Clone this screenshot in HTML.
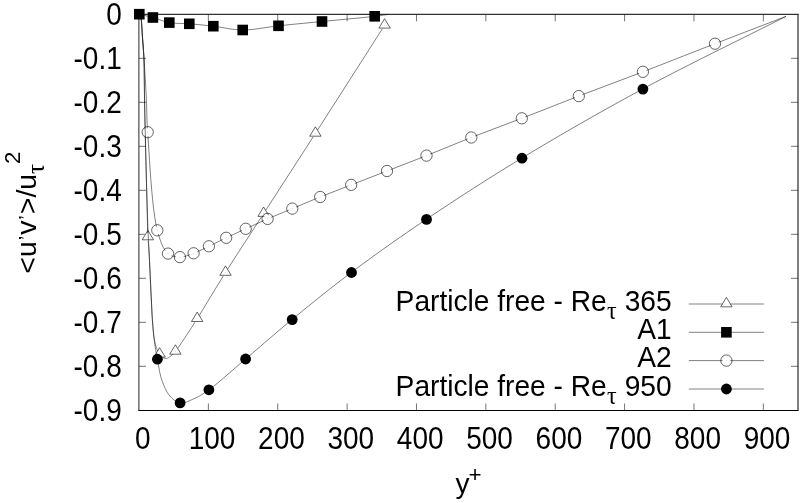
<!DOCTYPE html>
<html lang="en"><head><meta charset="utf-8"><title>Reynolds shear stress</title>
<style>html,body{margin:0;padding:0;background:#fff;overflow:hidden}body{width:806px;height:503px;position:relative}</style>
</head><body>
<svg width="806" height="503" viewBox="0 0 806 503" style="position:absolute;left:0;top:0">
<rect width="806" height="503" fill="#fff"/>
<path d="M208.37,410.5v-7 M208.37,14.3v7 M277.74,410.5v-7 M277.74,14.3v7 M347.11,410.5v-7 M347.11,14.3v7 M416.48,410.5v-7 M416.48,14.3v7 M485.85,410.5v-7 M485.85,14.3v7 M555.22,410.5v-7 M555.22,14.3v7 M624.59,410.5v-7 M624.59,14.3v7 M693.96,410.5v-7 M693.96,14.3v7 M763.33,410.5v-7 M763.33,14.3v7 M139.0,58.30h7 M798.0,58.30h-7 M139.0,102.30h7 M798.0,102.30h-7 M139.0,146.30h7 M798.0,146.30h-7 M139.0,190.30h7 M798.0,190.30h-7 M139.0,234.30h7 M798.0,234.30h-7 M139.0,278.30h7 M798.0,278.30h-7 M139.0,322.30h7 M798.0,322.30h-7 M139.0,366.30h7 M798.0,366.30h-7" stroke="#000" stroke-width="0.55" fill="none"/>
<polyline points="139.30,14.20 139.38,14.29 139.47,14.37 139.56,14.45 139.65,14.53 139.73,14.61 139.82,14.69 139.91,14.77 139.99,14.86 140.07,14.95 140.15,15.06 140.23,15.17 140.30,15.30 140.41,15.54 140.51,15.82 140.60,16.11 140.69,16.44 140.77,16.78 140.84,17.14 140.90,17.51 140.97,17.90 141.03,18.29 141.08,18.69 141.14,19.10 141.20,19.50 141.27,20.05 141.34,20.61 141.40,21.20 141.45,21.81 141.50,22.43 141.55,23.07 141.59,23.71 141.63,24.37 141.67,25.02 141.71,25.68 141.76,26.34 141.80,27.00 141.85,27.72 141.90,28.44 141.94,29.16 141.98,29.89 142.03,30.63 142.07,31.37 142.11,32.12 142.16,32.87 142.20,33.64 142.25,34.42 142.30,35.20 142.35,36.00 142.42,36.94 142.49,37.91 142.56,38.90 142.64,39.90 142.72,40.92 142.80,41.95 142.88,42.97 142.95,44.00 143.03,45.02 143.11,46.03 143.18,47.02 143.25,48.00 143.31,48.88 143.37,49.74 143.43,50.59 143.49,51.42 143.55,52.25 143.61,53.08 143.66,53.91 143.72,54.76 143.77,55.63 143.81,56.52 143.86,57.44 143.90,58.40 143.95,59.70 143.99,61.03 144.02,62.41 144.05,63.82 144.07,65.27 144.09,66.74 144.11,68.24 144.13,69.76 144.14,71.30 144.16,72.86 144.18,74.42 144.20,76.00 144.23,77.87 144.25,79.78 144.27,81.73 144.30,83.71 144.32,85.71 144.34,87.74 144.36,89.78 144.39,91.83 144.41,93.88 144.44,95.93 144.47,97.97 144.50,100.00 144.53,102.07 144.57,104.14 144.61,106.21 144.65,108.30 144.69,110.38 144.73,112.47 144.77,114.56 144.82,116.65 144.86,118.74 144.91,120.83 144.95,122.92 145.00,125.00 145.05,127.06 145.09,129.07 145.14,131.05 145.18,133.02 145.23,134.98 145.28,136.96 145.33,138.98 145.38,141.03 145.43,143.15 145.48,145.34 145.54,147.62 145.60,150.00 145.69,153.59 145.79,157.43 145.89,161.47 146.00,165.67 146.11,170.00 146.23,174.40 146.34,178.83 146.46,183.25 146.57,187.63 146.69,191.90 146.80,196.04 146.90,200.00 146.98,203.34 147.06,206.71 147.14,210.09 147.21,213.45 147.28,216.77 147.35,220.03 147.43,223.21 147.51,226.28 147.59,229.21 147.68,231.99 147.79,234.60 147.90,237.00 147.97,238.29 148.05,239.46 148.13,240.52 148.21,241.51 148.29,242.46 148.37,243.39 148.46,244.32 148.54,245.29 148.63,246.31 148.72,247.42 148.81,248.64 148.90,250.00 149.08,253.09 149.27,256.69 149.48,260.69 149.68,265.01 149.89,269.56 150.11,274.24 150.32,278.96 150.53,283.63 150.74,288.16 150.93,292.46 151.12,296.44 151.30,300.00 151.41,302.15 151.51,304.21 151.60,306.18 151.68,308.08 151.77,309.91 151.85,311.70 151.94,313.44 152.03,315.16 152.13,316.87 152.24,318.57 152.36,320.27 152.50,322.00 152.63,323.59 152.77,325.19 152.91,326.79 153.05,328.39 153.20,329.98 153.36,331.54 153.53,333.08 153.70,334.57 153.88,336.02 154.08,337.42 154.28,338.74 154.50,340.00 154.66,340.83 154.81,341.63 154.97,342.40 155.14,343.15 155.31,343.87 155.48,344.57 155.66,345.26 155.85,345.93 156.05,346.59 156.25,347.23 156.47,347.87 156.70,348.50 156.91,349.04 157.12,349.57 157.33,350.10 157.55,350.61 157.78,351.12 158.02,351.62 158.26,352.10 158.51,352.57 158.77,353.03 159.04,353.47 159.31,353.89 159.60,354.30 159.85,354.64 160.11,354.97 160.38,355.29 160.65,355.60 160.93,355.91 161.22,356.20 161.51,356.47 161.80,356.74 162.10,356.98 162.40,357.21 162.70,357.41 163.00,357.60 163.26,357.74 163.52,357.87 163.78,358.00 164.04,358.11 164.31,358.21 164.58,358.30 164.85,358.37 165.12,358.43 165.40,358.48 165.67,358.50 165.93,358.51 166.20,358.50 166.47,358.47 166.75,358.41 167.02,358.34 167.28,358.25 167.55,358.14 167.82,358.02 168.09,357.88 168.36,357.73 168.64,357.56 168.92,357.38 169.21,357.20 169.50,357.00 169.95,356.68 170.41,356.34 170.88,355.96 171.36,355.55 171.85,355.12 172.34,354.66 172.84,354.17 173.34,353.66 173.85,353.13 174.37,352.57 174.88,352.00 175.40,351.40 176.15,350.49 176.91,349.51 177.69,348.46 178.47,347.36 179.26,346.21 180.06,345.02 180.87,343.80 181.68,342.56 182.50,341.29 183.33,340.03 184.16,338.76 185.00,337.50 185.96,336.07 186.91,334.64 187.85,333.21 188.80,331.77 189.76,330.31 190.73,328.82 191.72,327.29 192.74,325.71 193.79,324.07 194.88,322.36 196.01,320.58 197.20,318.70 199.15,315.59 201.20,312.26 203.36,308.72 205.61,305.02 207.94,301.18 210.34,297.22 212.79,293.16 215.29,289.05 217.82,284.90 220.37,280.74 222.94,276.60 225.50,272.50 228.44,267.86 231.42,263.18 234.45,258.46 237.52,253.70 240.64,248.90 243.79,244.04 246.99,239.13 250.24,234.16 253.52,229.12 256.84,224.02 260.20,218.85 263.60,213.60 267.62,207.39 271.69,201.09 275.82,194.70 280.01,188.23 284.25,181.67 288.55,175.03 292.90,168.30 297.30,161.49 301.75,154.59 306.25,147.61 310.80,140.55 315.40,133.40 320.82,124.96 326.37,116.32 332.01,107.52 337.74,98.57 343.54,89.51 349.39,80.36 355.27,71.16 361.17,61.93 367.07,52.71 372.95,43.50 378.80,34.36 384.60,25.30" fill="none" stroke="#000" stroke-width="0.5" />
<circle cx="147.90" cy="237.00" r="3.9" fill="#fff"/><polygon points="147.90,230.40 142.20,239.80 153.60,239.80" fill="none" stroke="#000" stroke-width="0.6"/><circle cx="147.90" cy="237.00" r="0.5" fill="#ccc"/>
<circle cx="159.60" cy="354.30" r="3.9" fill="#fff"/><polygon points="159.60,347.70 153.90,357.10 165.30,357.10" fill="none" stroke="#000" stroke-width="0.6"/><circle cx="159.60" cy="354.30" r="0.5" fill="#ccc"/>
<circle cx="175.40" cy="351.40" r="3.9" fill="#fff"/><polygon points="175.40,344.80 169.70,354.20 181.10,354.20" fill="none" stroke="#000" stroke-width="0.6"/><circle cx="175.40" cy="351.40" r="0.5" fill="#ccc"/>
<circle cx="197.20" cy="318.70" r="3.9" fill="#fff"/><polygon points="197.20,312.10 191.50,321.50 202.90,321.50" fill="none" stroke="#000" stroke-width="0.6"/><circle cx="197.20" cy="318.70" r="0.5" fill="#ccc"/>
<circle cx="225.50" cy="272.50" r="3.9" fill="#fff"/><polygon points="225.50,265.90 219.80,275.30 231.20,275.30" fill="none" stroke="#000" stroke-width="0.6"/><circle cx="225.50" cy="272.50" r="0.5" fill="#ccc"/>
<circle cx="263.60" cy="213.60" r="3.9" fill="#fff"/><polygon points="263.60,207.00 257.90,216.40 269.30,216.40" fill="none" stroke="#000" stroke-width="0.6"/><circle cx="263.60" cy="213.60" r="0.5" fill="#ccc"/>
<circle cx="315.40" cy="133.40" r="3.9" fill="#fff"/><polygon points="315.40,126.80 309.70,136.20 321.10,136.20" fill="none" stroke="#000" stroke-width="0.6"/><circle cx="315.40" cy="133.40" r="0.5" fill="#ccc"/>
<circle cx="384.60" cy="25.30" r="3.9" fill="#fff"/><polygon points="384.60,18.70 378.90,28.10 390.30,28.10" fill="none" stroke="#000" stroke-width="0.6"/><circle cx="384.60" cy="25.30" r="0.5" fill="#ccc"/>
<polyline points="139.30,14.20 140.43,14.47 141.55,14.74 142.67,15.00 143.79,15.25 144.91,15.51 146.03,15.77 147.15,16.04 148.28,16.31 149.42,16.59 150.57,16.88 151.73,17.18 152.90,17.50 154.21,17.88 155.53,18.31 156.85,18.76 158.19,19.23 159.53,19.71 160.89,20.19 162.25,20.67 163.63,21.13 165.02,21.56 166.43,21.95 167.86,22.30 169.30,22.60 170.88,22.85 172.48,23.05 174.09,23.19 175.72,23.30 177.37,23.37 179.04,23.42 180.72,23.46 182.41,23.50 184.12,23.54 185.84,23.60 187.56,23.68 189.30,23.80 191.22,23.96 193.15,24.12 195.09,24.30 197.05,24.48 199.03,24.67 201.02,24.87 203.02,25.07 205.04,25.29 207.08,25.50 209.14,25.73 211.21,25.96 213.30,26.20 215.64,26.50 218.00,26.85 220.38,27.24 222.77,27.65 225.19,28.06 227.63,28.48 230.09,28.87 232.58,29.23 235.08,29.53 237.60,29.77 240.14,29.93 242.70,30.00 245.55,29.96 248.42,29.81 251.32,29.56 254.24,29.24 257.19,28.86 260.16,28.43 263.15,27.98 266.17,27.51 269.22,27.04 272.29,26.59 275.38,26.17 278.50,25.80 281.96,25.43 285.45,25.07 288.98,24.71 292.53,24.36 296.11,24.00 299.72,23.65 303.36,23.30 307.03,22.95 310.73,22.60 314.46,22.24 318.22,21.87 322.00,21.50 326.32,21.08 330.89,20.64 335.62,20.19 340.46,19.73 345.33,19.27 350.17,18.81 354.90,18.35 359.47,17.91 363.80,17.47 367.83,17.06 371.49,16.67 374.70,16.30 376.16,16.12 377.52,15.95 378.78,15.79 379.96,15.63 381.09,15.47 382.16,15.32 383.20,15.17 384.23,15.01 385.26,14.86 386.30,14.71 387.38,14.56 388.50,14.40" fill="none" stroke="#000" stroke-width="0.5" />
<rect x="147.60" y="12.20" width="10.6" height="10.6" fill="#000"/>
<rect x="164.00" y="17.30" width="10.6" height="10.6" fill="#000"/>
<rect x="184.00" y="18.50" width="10.6" height="10.6" fill="#000"/>
<rect x="208.00" y="20.90" width="10.6" height="10.6" fill="#000"/>
<rect x="237.40" y="24.70" width="10.6" height="10.6" fill="#000"/>
<rect x="273.20" y="20.50" width="10.6" height="10.6" fill="#000"/>
<rect x="316.70" y="16.20" width="10.6" height="10.6" fill="#000"/>
<rect x="369.40" y="11.00" width="10.6" height="10.6" fill="#000"/>
<polyline points="139.30,14.20 139.38,14.29 139.47,14.37 139.56,14.45 139.65,14.53 139.73,14.61 139.82,14.69 139.91,14.77 139.99,14.86 140.07,14.95 140.15,15.06 140.23,15.17 140.30,15.30 140.41,15.54 140.51,15.82 140.60,16.11 140.69,16.44 140.77,16.78 140.84,17.14 140.90,17.51 140.97,17.90 141.03,18.29 141.08,18.69 141.14,19.10 141.20,19.50 141.27,20.05 141.34,20.61 141.40,21.20 141.45,21.81 141.50,22.43 141.55,23.07 141.59,23.71 141.63,24.37 141.67,25.02 141.71,25.68 141.76,26.34 141.80,27.00 141.85,27.72 141.90,28.44 141.94,29.16 141.98,29.89 142.03,30.63 142.07,31.37 142.11,32.12 142.16,32.87 142.20,33.64 142.25,34.42 142.30,35.20 142.35,36.00 142.42,36.94 142.49,37.91 142.56,38.90 142.63,39.90 142.71,40.92 142.79,41.95 142.87,42.97 142.95,44.00 143.03,45.02 143.11,46.03 143.18,47.02 143.25,48.00 143.31,48.88 143.37,49.74 143.43,50.59 143.49,51.42 143.54,52.25 143.60,53.08 143.65,53.91 143.71,54.76 143.77,55.63 143.83,56.52 143.89,57.44 143.95,58.40 144.04,59.70 144.13,61.04 144.22,62.41 144.31,63.82 144.41,65.27 144.51,66.74 144.61,68.24 144.71,69.76 144.81,71.30 144.91,72.86 145.00,74.42 145.10,76.00 145.21,77.88 145.33,79.81 145.44,81.79 145.56,83.80 145.68,85.85 145.79,87.90 145.91,89.97 146.02,92.02 146.12,94.07 146.22,96.08 146.32,98.06 146.40,100.00 146.47,101.75 146.53,103.50 146.58,105.24 146.63,106.98 146.67,108.71 146.71,110.42 146.75,112.11 146.80,113.77 146.84,115.39 146.89,116.97 146.94,118.51 147.00,120.00 147.05,121.08 147.09,122.07 147.13,122.99 147.17,123.86 147.21,124.71 147.25,125.56 147.30,126.44 147.36,127.38 147.42,128.40 147.50,129.53 147.59,130.79 147.70,132.20 148.06,137.31 148.47,143.92 148.96,151.75 149.51,160.52 150.14,169.94 150.85,179.72 151.66,189.59 152.57,199.27 153.58,208.46 154.70,216.88 155.94,224.26 157.30,230.30 158.03,232.94 158.77,235.48 159.52,237.90 160.30,240.20 161.10,242.38 161.93,244.43 162.81,246.33 163.73,248.10 164.70,249.71 165.73,251.17 166.83,252.47 168.00,253.60 168.86,254.28 169.76,254.87 170.70,255.37 171.66,255.79 172.66,256.14 173.67,256.43 174.70,256.65 175.73,256.82 176.78,256.95 177.82,257.03 178.87,257.08 179.90,257.10 181.01,257.06 182.12,256.95 183.25,256.76 184.38,256.50 185.52,256.20 186.67,255.85 187.82,255.46 188.97,255.04 190.13,254.61 191.28,254.17 192.44,253.73 193.60,253.30 194.86,252.82 196.12,252.32 197.38,251.78 198.64,251.22 199.90,250.64 201.17,250.04 202.44,249.43 203.72,248.81 205.01,248.18 206.30,247.55 207.59,246.92 208.90,246.30 210.30,245.63 211.71,244.94 213.13,244.25 214.55,243.54 215.98,242.83 217.42,242.12 218.86,241.40 220.31,240.67 221.77,239.95 223.24,239.23 224.72,238.51 226.20,237.80 227.78,237.05 229.36,236.31 230.96,235.56 232.56,234.82 234.18,234.07 235.80,233.32 237.43,232.58 239.07,231.83 240.71,231.08 242.37,230.32 244.03,229.56 245.70,228.80 247.47,227.99 249.26,227.17 251.05,226.35 252.85,225.52 254.66,224.70 256.48,223.87 258.30,223.04 260.14,222.20 261.99,221.37 263.85,220.55 265.72,219.72 267.60,218.90 269.60,218.04 271.60,217.18 273.62,216.33 275.66,215.48 277.70,214.63 279.75,213.78 281.82,212.93 283.89,212.07 285.98,211.21 288.08,210.35 290.18,209.48 292.30,208.60 294.56,207.66 296.83,206.70 299.12,205.75 301.41,204.78 303.72,203.81 306.04,202.84 308.38,201.86 310.72,200.89 313.07,199.91 315.44,198.94 317.81,197.97 320.20,197.00 322.71,195.99 325.24,194.99 327.77,193.99 330.32,192.99 332.88,191.99 335.45,191.00 338.04,190.00 340.64,188.99 343.25,187.98 345.88,186.96 348.53,185.94 351.20,184.90 354.09,183.78 357.00,182.65 359.93,181.51 362.88,180.36 365.84,179.21 368.83,178.05 371.83,176.89 374.84,175.72 377.87,174.55 380.90,173.37 383.95,172.19 387.00,171.00 390.22,169.75 393.44,168.50 396.68,167.24 399.94,165.98 403.20,164.72 406.48,163.44 409.77,162.16 413.09,160.87 416.41,159.57 419.76,158.26 423.12,156.94 426.50,155.60 430.13,154.15 433.78,152.68 437.44,151.20 441.13,149.70 444.83,148.18 448.55,146.66 452.29,145.13 456.05,143.60 459.83,142.07 463.64,140.54 467.46,139.02 471.30,137.50 475.39,135.91 479.50,134.32 483.63,132.74 487.79,131.16 491.96,129.59 496.16,128.00 500.38,126.42 504.63,124.82 508.89,123.21 513.17,121.59 517.48,119.96 521.80,118.30 526.42,116.52 531.07,114.71 535.73,112.90 540.42,111.06 545.14,109.22 549.87,107.36 554.63,105.49 559.42,103.62 564.23,101.74 569.06,99.86 573.92,97.98 578.80,96.10 583.99,94.11 589.22,92.12 594.47,90.13 599.75,88.14 605.05,86.14 610.38,84.13 615.74,82.11 621.12,80.08 626.53,78.04 631.96,75.98 637.42,73.90 642.90,71.80 648.77,69.54 654.68,67.25 660.65,64.93 666.65,62.59 672.67,60.23 678.72,57.86 684.78,55.49 690.85,53.11 696.91,50.74 702.96,48.38 709.00,46.03 715.00,43.70 720.93,41.41 726.86,39.12 732.78,36.84 738.70,34.56 744.62,32.29 750.53,30.02 756.44,27.75 762.35,25.48 768.26,23.21 774.17,20.94 780.08,18.67 786.00,16.40" fill="none" stroke="#000" stroke-width="0.5" />
<circle cx="147.70" cy="132.20" r="3.9" fill="#fff"/><circle cx="147.70" cy="132.20" r="5.65" fill="none" stroke="#000" stroke-width="0.6"/><circle cx="147.70" cy="132.20" r="0.5" fill="#ccc"/>
<circle cx="157.30" cy="230.30" r="3.9" fill="#fff"/><circle cx="157.30" cy="230.30" r="5.65" fill="none" stroke="#000" stroke-width="0.6"/><circle cx="157.30" cy="230.30" r="0.5" fill="#ccc"/>
<circle cx="168.00" cy="253.60" r="3.9" fill="#fff"/><circle cx="168.00" cy="253.60" r="5.65" fill="none" stroke="#000" stroke-width="0.6"/><circle cx="168.00" cy="253.60" r="0.5" fill="#ccc"/>
<circle cx="179.90" cy="257.10" r="3.9" fill="#fff"/><circle cx="179.90" cy="257.10" r="5.65" fill="none" stroke="#000" stroke-width="0.6"/><circle cx="179.90" cy="257.10" r="0.5" fill="#ccc"/>
<circle cx="193.60" cy="253.30" r="3.9" fill="#fff"/><circle cx="193.60" cy="253.30" r="5.65" fill="none" stroke="#000" stroke-width="0.6"/><circle cx="193.60" cy="253.30" r="0.5" fill="#ccc"/>
<circle cx="208.90" cy="246.30" r="3.9" fill="#fff"/><circle cx="208.90" cy="246.30" r="5.65" fill="none" stroke="#000" stroke-width="0.6"/><circle cx="208.90" cy="246.30" r="0.5" fill="#ccc"/>
<circle cx="226.20" cy="237.80" r="3.9" fill="#fff"/><circle cx="226.20" cy="237.80" r="5.65" fill="none" stroke="#000" stroke-width="0.6"/><circle cx="226.20" cy="237.80" r="0.5" fill="#ccc"/>
<circle cx="245.70" cy="228.80" r="3.9" fill="#fff"/><circle cx="245.70" cy="228.80" r="5.65" fill="none" stroke="#000" stroke-width="0.6"/><circle cx="245.70" cy="228.80" r="0.5" fill="#ccc"/>
<circle cx="267.60" cy="218.90" r="3.9" fill="#fff"/><circle cx="267.60" cy="218.90" r="5.65" fill="none" stroke="#000" stroke-width="0.6"/><circle cx="267.60" cy="218.90" r="0.5" fill="#ccc"/>
<circle cx="292.30" cy="208.60" r="3.9" fill="#fff"/><circle cx="292.30" cy="208.60" r="5.65" fill="none" stroke="#000" stroke-width="0.6"/><circle cx="292.30" cy="208.60" r="0.5" fill="#ccc"/>
<circle cx="320.20" cy="197.00" r="3.9" fill="#fff"/><circle cx="320.20" cy="197.00" r="5.65" fill="none" stroke="#000" stroke-width="0.6"/><circle cx="320.20" cy="197.00" r="0.5" fill="#ccc"/>
<circle cx="351.20" cy="184.90" r="3.9" fill="#fff"/><circle cx="351.20" cy="184.90" r="5.65" fill="none" stroke="#000" stroke-width="0.6"/><circle cx="351.20" cy="184.90" r="0.5" fill="#ccc"/>
<circle cx="387.00" cy="171.00" r="3.9" fill="#fff"/><circle cx="387.00" cy="171.00" r="5.65" fill="none" stroke="#000" stroke-width="0.6"/><circle cx="387.00" cy="171.00" r="0.5" fill="#ccc"/>
<circle cx="426.50" cy="155.60" r="3.9" fill="#fff"/><circle cx="426.50" cy="155.60" r="5.65" fill="none" stroke="#000" stroke-width="0.6"/><circle cx="426.50" cy="155.60" r="0.5" fill="#ccc"/>
<circle cx="471.30" cy="137.50" r="3.9" fill="#fff"/><circle cx="471.30" cy="137.50" r="5.65" fill="none" stroke="#000" stroke-width="0.6"/><circle cx="471.30" cy="137.50" r="0.5" fill="#ccc"/>
<circle cx="521.80" cy="118.30" r="3.9" fill="#fff"/><circle cx="521.80" cy="118.30" r="5.65" fill="none" stroke="#000" stroke-width="0.6"/><circle cx="521.80" cy="118.30" r="0.5" fill="#ccc"/>
<circle cx="578.80" cy="96.10" r="3.9" fill="#fff"/><circle cx="578.80" cy="96.10" r="5.65" fill="none" stroke="#000" stroke-width="0.6"/><circle cx="578.80" cy="96.10" r="0.5" fill="#ccc"/>
<circle cx="642.90" cy="71.80" r="3.9" fill="#fff"/><circle cx="642.90" cy="71.80" r="5.65" fill="none" stroke="#000" stroke-width="0.6"/><circle cx="642.90" cy="71.80" r="0.5" fill="#ccc"/>
<circle cx="715.00" cy="43.70" r="3.9" fill="#fff"/><circle cx="715.00" cy="43.70" r="5.65" fill="none" stroke="#000" stroke-width="0.6"/><circle cx="715.00" cy="43.70" r="0.5" fill="#ccc"/>
<polyline points="139.40,14.20 139.48,14.29 139.57,14.37 139.66,14.45 139.75,14.53 139.83,14.61 139.92,14.69 140.01,14.77 140.09,14.86 140.17,14.95 140.25,15.06 140.33,15.17 140.40,15.30 140.51,15.54 140.61,15.82 140.70,16.11 140.79,16.44 140.87,16.78 140.94,17.14 141.00,17.51 141.07,17.90 141.13,18.29 141.18,18.69 141.24,19.10 141.30,19.50 141.37,20.05 141.44,20.61 141.50,21.20 141.55,21.81 141.60,22.43 141.65,23.07 141.69,23.71 141.73,24.37 141.77,25.02 141.81,25.68 141.86,26.34 141.90,27.00 141.95,27.72 142.00,28.44 142.04,29.16 142.08,29.89 142.13,30.63 142.17,31.37 142.21,32.12 142.26,32.87 142.30,33.64 142.35,34.42 142.40,35.20 142.45,36.00 142.52,36.94 142.59,37.91 142.66,38.90 142.74,39.90 142.82,40.92 142.90,41.95 142.98,42.97 143.05,44.00 143.13,45.02 143.21,46.03 143.28,47.02 143.35,48.00 143.41,48.88 143.47,49.74 143.53,50.59 143.59,51.42 143.65,52.25 143.71,53.08 143.76,53.91 143.82,54.76 143.87,55.63 143.91,56.52 143.96,57.44 144.00,58.40 144.05,59.70 144.09,61.03 144.12,62.41 144.15,63.82 144.17,65.27 144.19,66.74 144.21,68.24 144.23,69.76 144.24,71.30 144.26,72.86 144.28,74.42 144.30,76.00 144.33,77.87 144.35,79.78 144.37,81.73 144.40,83.71 144.42,85.71 144.44,87.74 144.46,89.78 144.49,91.83 144.51,93.88 144.54,95.93 144.57,97.97 144.60,100.00 144.63,102.07 144.67,104.14 144.71,106.21 144.75,108.30 144.79,110.38 144.83,112.47 144.87,114.56 144.92,116.65 144.96,118.74 145.01,120.83 145.05,122.92 145.10,125.00 145.15,127.06 145.19,129.07 145.24,131.05 145.28,133.02 145.33,134.98 145.38,136.96 145.43,138.98 145.48,141.03 145.53,143.15 145.58,145.34 145.64,147.62 145.70,150.00 145.79,153.59 145.88,157.43 145.98,161.47 146.09,165.67 146.19,170.00 146.30,174.40 146.42,178.83 146.53,183.25 146.65,187.63 146.76,191.90 146.88,196.04 147.00,200.00 147.10,203.34 147.21,206.71 147.32,210.09 147.43,213.45 147.54,216.77 147.65,220.03 147.76,223.21 147.87,226.28 147.98,229.21 148.09,231.99 148.20,234.60 148.30,237.00 148.36,238.29 148.42,239.45 148.47,240.52 148.52,241.51 148.58,242.46 148.63,243.39 148.69,244.32 148.74,245.29 148.80,246.31 148.86,247.42 148.93,248.64 149.00,250.00 149.15,253.09 149.33,256.69 149.52,260.69 149.73,265.01 149.94,269.56 150.16,274.24 150.38,278.96 150.60,283.63 150.82,288.16 151.03,292.46 151.22,296.44 151.40,300.00 151.51,302.15 151.61,304.21 151.71,306.18 151.80,308.08 151.89,309.91 151.98,311.70 152.07,313.44 152.17,315.16 152.27,316.87 152.37,318.57 152.48,320.27 152.60,322.00 152.71,323.56 152.82,325.10 152.93,326.62 153.04,328.12 153.16,329.60 153.28,331.08 153.41,332.56 153.54,334.03 153.69,335.51 153.84,336.99 154.01,338.49 154.20,340.00 154.41,341.58 154.63,343.16 154.87,344.75 155.11,346.34 155.37,347.93 155.64,349.52 155.92,351.12 156.20,352.73 156.49,354.34 156.79,355.95 157.09,357.57 157.40,359.20 157.71,360.92 158.02,362.66 158.32,364.43 158.62,366.21 158.93,367.99 159.25,369.78 159.59,371.55 159.96,373.30 160.36,375.03 160.79,376.73 161.27,378.39 161.80,380.00 162.32,381.46 162.86,382.92 163.42,384.38 164.01,385.83 164.63,387.25 165.27,388.65 165.94,390.01 166.64,391.32 167.38,392.57 168.15,393.76 168.96,394.87 169.80,395.90 170.54,396.72 171.30,397.52 172.09,398.30 172.90,399.04 173.74,399.75 174.60,400.41 175.48,401.01 176.37,401.55 177.28,402.02 178.21,402.40 179.15,402.70 180.10,402.90 181.13,402.99 182.20,402.96 183.29,402.82 184.40,402.58 185.53,402.26 186.68,401.88 187.83,401.44 189.00,400.96 190.16,400.45 191.31,399.93 192.46,399.41 193.60,398.90 194.85,398.34 196.08,397.75 197.29,397.14 198.49,396.50 199.69,395.82 200.91,395.11 202.14,394.36 203.40,393.56 204.70,392.70 206.04,391.80 207.44,390.83 208.90,389.80 211.44,387.94 214.13,385.85 216.96,383.58 219.91,381.14 222.95,378.57 226.08,375.88 229.28,373.11 232.52,370.29 235.79,367.44 239.07,364.59 242.35,361.77 245.60,359.00 249.27,355.89 252.98,352.72 256.72,349.52 260.50,346.27 264.31,342.99 268.16,339.68 272.06,336.34 276.00,332.98 279.98,329.60 284.00,326.21 288.08,322.81 292.20,319.40 296.84,315.59 301.53,311.75 306.28,307.87 311.08,303.98 315.93,300.05 320.84,296.12 325.80,292.16 330.82,288.20 335.90,284.22 341.04,280.25 346.24,276.27 351.50,272.30 357.36,267.93 363.29,263.55 369.29,259.16 375.36,254.76 381.51,250.36 387.72,245.95 394.00,241.52 400.36,237.09 406.78,232.64 413.28,228.17 419.85,223.69 426.50,219.20 433.97,214.18 441.53,209.15 449.17,204.09 456.91,199.01 464.73,193.92 472.64,188.81 480.64,183.70 488.74,178.57 496.92,173.43 505.19,168.29 513.55,163.15 522.00,158.00 531.48,152.28 541.09,146.54 550.83,140.79 560.68,135.01 570.64,129.23 580.71,123.44 590.87,117.65 601.12,111.87 611.46,106.10 621.87,100.35 632.35,94.61 642.90,88.90 654.34,82.80 665.95,76.72 677.70,70.65 689.58,64.61 701.55,58.57 713.59,52.54 725.68,46.52 737.79,40.50 749.90,34.48 761.99,28.46 774.03,22.44 786.00,16.40" fill="none" stroke="#000" stroke-width="0.5" />
<circle cx="157.40" cy="359.20" r="5.4" fill="#000"/>
<circle cx="180.10" cy="402.90" r="5.4" fill="#000"/>
<circle cx="208.90" cy="389.80" r="5.4" fill="#000"/>
<circle cx="245.60" cy="359.00" r="5.4" fill="#000"/>
<circle cx="292.20" cy="319.60" r="5.4" fill="#000"/>
<circle cx="351.50" cy="272.50" r="5.4" fill="#000"/>
<circle cx="426.50" cy="219.40" r="5.4" fill="#000"/>
<circle cx="522.00" cy="158.20" r="5.4" fill="#000"/>
<circle cx="642.90" cy="89.10" r="5.4" fill="#000"/>
<path d="M688.8,304.0H763.9" stroke="#000" stroke-width="0.5"/>
<path d="M688.8,332.3H763.9" stroke="#000" stroke-width="0.5"/>
<path d="M688.8,360.6H763.9" stroke="#000" stroke-width="0.5"/>
<path d="M688.8,389.0H763.9" stroke="#000" stroke-width="0.5"/>
<circle cx="726.40" cy="304.00" r="3.9" fill="#fff"/><polygon points="726.40,297.40 720.70,306.80 732.10,306.80" fill="none" stroke="#000" stroke-width="0.6"/><circle cx="726.40" cy="304.00" r="0.5" fill="#ccc"/>
<rect x="721.10" y="327.00" width="10.6" height="10.6" fill="#000"/>
<circle cx="726.40" cy="360.60" r="3.9" fill="#fff"/><circle cx="726.40" cy="360.60" r="5.65" fill="none" stroke="#000" stroke-width="0.6"/><circle cx="726.40" cy="360.60" r="0.5" fill="#ccc"/>
<circle cx="726.40" cy="389.00" r="5.4" fill="#000"/>
<path d="M138.9,13.8V411.0" stroke="#000" stroke-width="0.85" fill="none"/>
<path d="M138.5,410.5H798.5 M798.0,410.5V14.3 M798.5,14.3H138.5" stroke="#000" stroke-width="1.0" fill="none"/>
<rect x="134.00" y="8.90" width="10.6" height="10.6" fill="#000"/>
<g font-family="'Liberation Sans', Arial, Helvetica, sans-serif" font-size="28.0" fill="#000" style="font-kerning:none">
<text transform="translate(106.23,24.75) scale(1,1.1)" font-size="28.0">0</text>
<text transform="translate(73.55,68.75) scale(1,1.1)" font-size="28.0">-0.1</text>
<text transform="translate(73.55,112.75) scale(1,1.1)" font-size="28.0">-0.2</text>
<text transform="translate(73.55,156.75) scale(1,1.1)" font-size="28.0">-0.3</text>
<text transform="translate(73.55,200.75) scale(1,1.1)" font-size="28.0">-0.4</text>
<text transform="translate(73.55,244.75) scale(1,1.1)" font-size="28.0">-0.5</text>
<text transform="translate(73.55,288.75) scale(1,1.1)" font-size="28.0">-0.6</text>
<text transform="translate(73.55,332.75) scale(1,1.1)" font-size="28.0">-0.7</text>
<text transform="translate(73.55,376.75) scale(1,1.1)" font-size="28.0">-0.8</text>
<text transform="translate(73.55,420.75) scale(1,1.1)" font-size="28.0">-0.9</text>
<text transform="translate(134.91,448.85) scale(1,1.1)" font-size="28.0">0</text>
<text transform="translate(188.71,448.85) scale(1,1.1)" font-size="28.0">100</text>
<text transform="translate(258.08,448.85) scale(1,1.1)" font-size="28.0">200</text>
<text transform="translate(327.45,448.85) scale(1,1.1)" font-size="28.0">300</text>
<text transform="translate(396.82,448.85) scale(1,1.1)" font-size="28.0">400</text>
<text transform="translate(466.19,448.85) scale(1,1.1)" font-size="28.0">500</text>
<text transform="translate(535.56,448.85) scale(1,1.1)" font-size="28.0">600</text>
<text transform="translate(604.93,448.85) scale(1,1.1)" font-size="28.0">700</text>
<text transform="translate(674.30,448.85) scale(1,1.1)" font-size="28.0">800</text>
<text transform="translate(743.67,448.85) scale(1,1.1)" font-size="28.0">900</text>
<text xml:space="preserve" transform="translate(671.6,310.60) scale(1,1.04)" text-anchor="end" font-size="28.15">Particle free - Re<tspan font-family="'Liberation Serif', 'DejaVu Serif', serif" font-size="24.0" dy="8.17" dx="0.2">τ</tspan><tspan dy="-8.17" dx="0.3"> 365</tspan></text>
<text transform="translate(671.6,339.00) scale(1,1.07)" text-anchor="end" font-size="28.15">A1</text>
<text transform="translate(671.6,367.30) scale(1,1.07)" text-anchor="end" font-size="28.15">A2</text>
<text xml:space="preserve" transform="translate(671.6,395.70) scale(1,1.04)" text-anchor="end" font-size="28.15">Particle free - Re<tspan font-family="'Liberation Serif', 'DejaVu Serif', serif" font-size="24.0" dy="8.17" dx="0.2">τ</tspan><tspan dy="-8.17" dx="0.3"> 950</tspan></text>
<text x="455.4" y="493.4">y<tspan font-size="22.40" dy="-11.5" dx="-0.9">+</tspan></text>
<g transform="translate(35.5,273.7) rotate(-90)" font-size="28.5">
<text x="0" y="0"><tspan dy="1.8">&lt;</tspan><tspan dy="-1.8">u</tspan><tspan font-size="20" dy="-3.0" dx="0.85">’</tspan><tspan dy="3.0" dx="1.04">v</tspan><tspan font-size="20" dy="-3.0" dx="0.85">’</tspan><tspan dy="4.8" dx="1.04">&gt;</tspan><tspan dy="-1.8">/u</tspan><tspan x="99.80" dy="8.4" font-family="'Liberation Serif', 'DejaVu Serif', serif" font-size="25.0">τ</tspan><tspan x="109.80" dy="-23.8" font-size="22.40">2</tspan></text>
</g>
</g>
</svg>
</body></html>
